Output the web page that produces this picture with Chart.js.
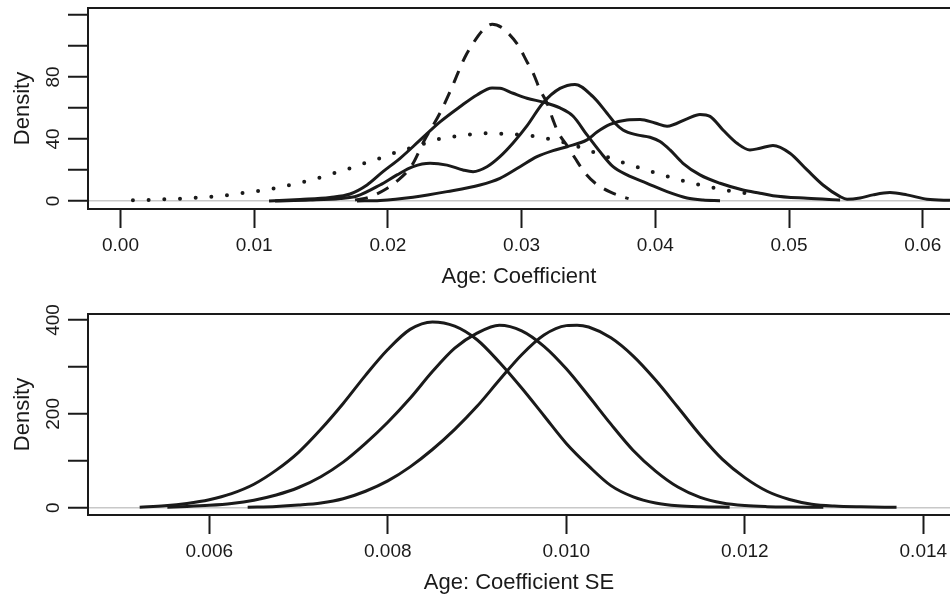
<!DOCTYPE html>
<html><head><meta charset="utf-8">
<script src="https://cdn.jsdelivr.net/npm/chart.js@4.4.1/dist/chart.umd.min.js"></script>
<style>
html,body{margin:0;padding:0;background:#fff;overflow:hidden;}
#wrap{position:relative;width:950px;height:601px;}
canvas{position:absolute;left:0;}
</style></head><body>
<div id="wrap">
<canvas id="topChart" width="950" height="300" style="top:0"></canvas>
<canvas id="botChart" width="950" height="301" style="top:300px"></canvas>
</div>
<script>
// ---------- Top panel: Age coefficient densities ----------
const topXTicks = [0, 0.01, 0.02, 0.03, 0.04, 0.05, 0.06];
const topXLabels = ['0.00', '0.01', '0.02', '0.03', '0.04', '0.05', '0.06'];
const topYTicks = [0, 20, 40, 60, 80, 100, 120];
const topYLabels = ['0', '', '40', '', '80', '', ''];

const solidA_x = [0.01111, 0.01343, 0.01567, 0.01717, 0.01844, 0.01963, 0.02091, 0.02240, 0.02390, 0.02539, 0.02666, 0.02779, 0.02838, 0.02936, 0.03040, 0.03175, 0.03287, 0.03384, 0.03489, 0.03586, 0.03684, 0.03788, 0.03938, 0.04088, 0.04237, 0.04357, 0.04484];
const solidA_y = [0, 1.0, 2.3, 4.5, 10.3, 18.9, 27.5, 39.2, 51.0, 60.8, 68.4, 72.9, 72.7, 69.5, 66.3, 63.5, 60.0, 54.8, 42.6, 31.8, 22.1, 16.8, 11.4, 6.0, 1.9, 0.6, 0.2];

const solidB_x = [0.01156, 0.01417, 0.01642, 0.01769, 0.01941, 0.02068, 0.02188, 0.02315, 0.02442, 0.02562, 0.02637, 0.02741, 0.02838, 0.02936, 0.03040, 0.03160, 0.03287, 0.03399, 0.03534, 0.03639, 0.03699, 0.03758, 0.03863, 0.03960, 0.04035, 0.04110, 0.04207, 0.04334, 0.04484, 0.04656, 0.04783, 0.04880, 0.05135, 0.05382];
const solidB_y = [0, 0.6, 1.6, 3.2, 10.3, 16.8, 22.1, 24.3, 23.1, 20.0, 18.9, 22.1, 28.6, 37.4, 48.4, 63.2, 72.6, 75.2, 67.3, 56.6, 50.1, 45.8, 42.6, 41.1, 38.3, 32.9, 24.3, 16.8, 11.4, 7.1, 5.0, 3.4, 1.7, 0.6];

const solidC_x = [0.01769, 0.01941, 0.02188, 0.02442, 0.02689, 0.02838, 0.02988, 0.03115, 0.03235, 0.03340, 0.03489, 0.03564, 0.03661, 0.03788, 0.03886, 0.03998, 0.04088, 0.04237, 0.04334, 0.04409, 0.04506, 0.04611, 0.04708, 0.04783, 0.04880, 0.05007, 0.05135, 0.05254, 0.05382, 0.05434, 0.05531, 0.05628, 0.05755, 0.05882, 0.06032, 0.06204, 0.06400];
const solidC_y = [0, 0.3, 2.4, 6.0, 10.3, 14.6, 22.1, 28.6, 32.5, 35.0, 39.4, 44.5, 49.4, 52.3, 52.6, 50.3, 48.2, 53.0, 55.8, 54.6, 45.8, 37.2, 32.9, 34.0, 35.8, 30.8, 20.0, 10.3, 2.8, 1.1, 1.9, 3.9, 5.4, 3.9, 1.1, 0.4, 0.1];

const dashed_x = [0.01754, 0.01866, 0.01986, 0.02061, 0.02181, 0.02270, 0.02390, 0.02480, 0.02524, 0.02577, 0.02629, 0.02711, 0.02780, 0.02850, 0.02898, 0.02973, 0.03041, 0.03086, 0.03138, 0.03190, 0.03235, 0.03272, 0.03347, 0.03399, 0.03474, 0.03549, 0.03661, 0.03758, 0.03800];
const dashed_y = [0.6, 2.6, 7.7, 12.3, 23.2, 38.7, 56.8, 73.5, 82.6, 92.9, 100.6, 110.3, 114.0, 112.0, 108.4, 100.6, 89.7, 82.6, 71.6, 63.2, 52.3, 44.5, 34.8, 27.7, 18.1, 11.6, 5.8, 2.6, 1.5];

const dotted_x = [0.00093, 0.00213, 0.00333, 0.00452, 0.00572, 0.00692, 0.00812, 0.00924, 0.01043, 0.01163, 0.01275, 0.01395, 0.01507, 0.01619, 0.01739, 0.01844, 0.01964, 0.02075, 0.02188, 0.02290, 0.02405, 0.02524, 0.02651, 0.02763, 0.02890, 0.03003, 0.03115, 0.03235, 0.03347, 0.03459, 0.03572, 0.03684, 0.03796, 0.03916, 0.04028, 0.04140, 0.04260, 0.04372, 0.04492, 0.04604, 0.04724];
const dotted_y = [0.45, 0.65, 1.1, 1.5, 2.1, 2.8, 3.9, 5.2, 6.6, 8.4, 10.5, 12.9, 15.5, 18.5, 21.7, 25.0, 28.2, 31.8, 34.6, 37.5, 40.5, 41.9, 43.2, 43.7, 43.2, 42.6, 41.5, 39.4, 37.0, 34.0, 30.5, 27.1, 23.7, 20.6, 17.4, 14.6, 11.8, 9.7, 7.5, 5.8, 4.5];

// ---------- Bottom panel: Age coefficient SE densities ----------
const botXTicks = [0.006, 0.008, 0.010, 0.012, 0.014];
const botXLabels = ['0.006', '0.008', '0.010', '0.012', '0.014'];
const botYTicks = [0, 100, 200, 300, 400];
const botYLabels = ['0', '', '200', '', '400'];

const se1_x = [0.00522, 0.0055, 0.00575, 0.006, 0.00625, 0.0065, 0.00675, 0.007, 0.00725, 0.0075, 0.00775, 0.008, 0.00825, 0.0085, 0.00875, 0.009, 0.00925, 0.0095, 0.00975, 0.01, 0.01025, 0.0105, 0.01075, 0.011, 0.01125, 0.0115, 0.01183];
const se1_y = [1, 4, 9, 17, 30, 50, 80, 118, 167, 222, 282, 337, 380, 396, 387, 358, 310, 255, 196, 137, 89, 47, 23, 10, 4, 1.8, 1];

const se2_x = [0.00553, 0.00575, 0.006, 0.00625, 0.0065, 0.00675, 0.007, 0.00725, 0.0075, 0.00775, 0.008, 0.00825, 0.0085, 0.00875, 0.009, 0.00925, 0.0095, 0.00975, 0.01, 0.01025, 0.0105, 0.01075, 0.011, 0.01125, 0.0115, 0.01175, 0.012, 0.01225, 0.0125, 0.01288];
const se2_y = [1, 2.5, 5, 9, 16, 27, 43, 66, 97, 137, 182, 233, 290, 340, 372, 389, 377, 344, 296, 238, 178, 122, 78, 44, 22, 10, 4.5, 2.2, 1.3, 0.9];

const se3_x = [0.00643, 0.00675, 0.007, 0.00725, 0.0075, 0.00775, 0.008, 0.00825, 0.0085, 0.00875, 0.009, 0.00925, 0.0095, 0.00975, 0.01, 0.01012, 0.01025, 0.0105, 0.01075, 0.011, 0.01125, 0.0115, 0.01175, 0.012, 0.01225, 0.0125, 0.01275, 0.013, 0.0133, 0.0137];
const se3_y = [1, 2.5, 5.5, 10, 19, 35, 57, 87, 124, 167, 216, 272, 326, 368, 388, 389, 385, 362, 323, 272, 214, 155, 103, 64, 35, 17.5, 7.5, 3.5, 1.8, 0.9];

// ---------- helpers ----------
const INK = '#1a1a1a';
const FONT = "'Liberation Sans', Arial, Helvetica, sans-serif";
Chart.defaults.font.family = FONT;
Chart.defaults.color = INK;

function pts(xs, ys) { return xs.map((x, i) => ({x: x, y: ys[i]})); }

function series(label, xs, ys, style) {
  return Object.assign({
    label: label,
    data: pts(xs, ys),
    borderColor: INK,
    borderWidth: 3,
    pointRadius: 0,
    fill: false,
    cubicInterpolationMode: 'monotone',
    borderCapStyle: 'butt',
    borderJoinStyle: 'round'
  }, style || {});
}

const framePlugin = {
  id: 'frame',
  afterDatasetsDraw(chart) {
    const a = chart.chartArea, ctx = chart.ctx;
    ctx.save();
    ctx.strokeStyle = INK;
    ctx.lineWidth = 2;
    ctx.lineCap = 'square';
    ctx.beginPath();
    ctx.moveTo(a.right + 10, a.top);
    ctx.lineTo(a.left, a.top);
    ctx.lineTo(a.left, a.bottom);
    ctx.lineTo(a.right + 10, a.bottom);
    ctx.stroke();
    ctx.restore();
  }
};

function xScale(min, max, ticks, labels, title, axisH, titlePadB) {
  return {
    type: 'linear', min: min, max: max,
    afterBuildTicks: s => { s.ticks = ticks.map(v => ({value: v})); },
    afterFit: s => { s.height = axisH; s.paddingLeft = 0; s.paddingRight = 0; },
    ticks: { callback: (v, i) => labels[i], font: {size: 19}, color: INK, padding: 6,
             minRotation: 0, maxRotation: 0, autoSkip: false },
    grid: { drawOnChartArea: false, drawTicks: true, tickLength: 19, tickWidth: 2, tickColor: INK },
    border: { display: false },
    title: { display: true, text: title, font: {size: 22}, color: INK, padding: {top: 0, bottom: titlePadB} }
  };
}

function yScale(min, max, ticks, labels, tickPad) {
  return {
    type: 'linear', min: min, max: max,
    afterBuildTicks: s => { s.ticks = ticks.map(v => ({value: v})); },
    afterFit: s => { s.width = 88; s.paddingTop = 0; s.paddingBottom = 0; },
    ticks: { callback: (v, i) => labels[i], font: {size: 19}, color: INK, padding: tickPad,
             minRotation: 90, maxRotation: 90, crossAlign: 'center', autoSkip: false },
    grid: { drawOnChartArea: true,
            color: c => (c.tick && c.tick.value === 0) ? '#c8c8c8' : 'rgba(0,0,0,0)',
            lineWidth: 1.5, drawTicks: true, tickLength: 20, tickWidth: 2, tickColor: INK },
    border: { display: false },
    title: { display: true, text: 'Density', font: {size: 22}, color: INK, padding: {top: 10, bottom: 0} }
  };
}

function baseOptions(padTop, xs, ys) {
  return {
    responsive: false, animation: false, devicePixelRatio: 1,
    layout: { padding: { top: padTop, left: 0, right: 0, bottom: 0 } },
    plugins: { legend: { display: false }, tooltip: { enabled: false } },
    scales: { x: xs, y: ys }
  };
}

new Chart(document.getElementById('topChart'), {
  type: 'line',
  data: { datasets: [
    series('Dotted', dotted_x, dotted_y, { borderWidth: 4, borderDash: [0, 15.7], borderCapStyle: 'round' }),
    series('Dashed', dashed_x, dashed_y, { borderDash: [13, 10] }),
    series('Solid A', solidA_x, solidA_y),
    series('Solid B', solidB_x, solidB_y),
    series('Solid C', solidC_x, solidC_y)
  ]},
  options: baseOptions(8,
    xScale(-0.00243, 0.06204, topXTicks, topXLabels, 'Age: Coefficient', 91, 10),
    yScale(-5.2, 124.5, topYTicks, topYLabels, 3.5)),
  plugins: [framePlugin]
});

new Chart(document.getElementById('botChart'), {
  type: 'line',
  data: { datasets: [
    series('SE 1', se1_x, se1_y),
    series('SE 2', se2_x, se2_y),
    series('SE 3', se3_x, se3_y)
  ]},
  options: baseOptions(14,
    xScale(0.004641, 0.014299, botXTicks, botXLabels, 'Age: Coefficient SE', 86, 5),
    yScale(-15.6, 412.8, botYTicks, botYLabels, -1.8)),
  plugins: [framePlugin]
});
</script>
</body></html>
